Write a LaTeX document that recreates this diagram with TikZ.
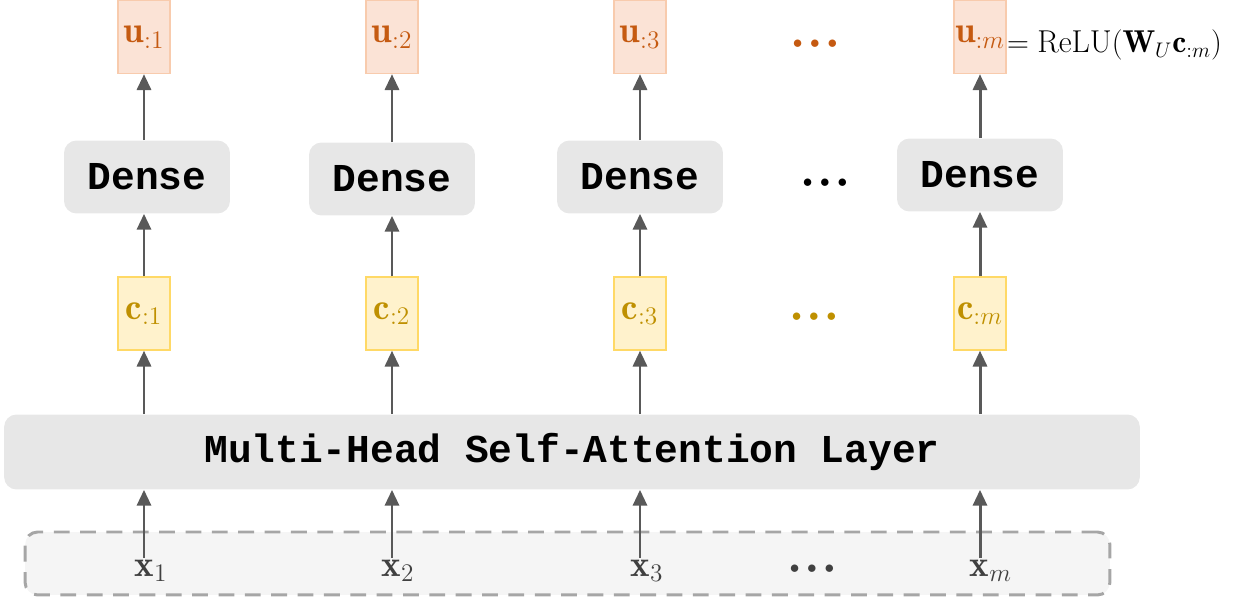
\documentclass[tikz,border=0pt]{standalone}
\usepackage{amsmath}
\usepackage{fontspec}
\setmonofont{Liberation Mono}
\usetikzlibrary{arrows.meta}

\definecolor{ufill}{HTML}{FBE3D6}
\definecolor{uline}{HTML}{F8CBAD}
\definecolor{utext}{HTML}{C55A11}
\definecolor{cfill}{HTML}{FFF2CC}
\definecolor{cline}{HTML}{FFD966}
\definecolor{ctext}{HTML}{BF9000}
\definecolor{boxgray}{HTML}{E7E7E7}
\definecolor{arrgray}{HTML}{595959}
\definecolor{xtext}{HTML}{404040}

\tikzset{
  ubox/.style={draw=uline, fill=ufill, line width=0.8pt, minimum width=1.04cm,
    minimum height=1.46cm, inner sep=0pt, text=utext, font=\fontsize{21}{23}\selectfont},
  cbox/.style={draw=cline, fill=cfill, line width=0.8pt, minimum width=1.04cm,
    minimum height=1.46cm, inner sep=0pt, text=ctext, font=\fontsize{21}{23}\selectfont},
  densebox/.style={fill=boxgray, rounded corners=0.25cm, minimum width=3.32cm,
    minimum height=1.46cm, font=\ttfamily\bfseries\fontsize{22.5}{24}\selectfont},
  arr/.style={draw=arrgray, line width=1.7pt, -{Triangle[length=9pt,width=8pt]}},
  xlab/.style={text=xtext, inner sep=1pt, font=\fontsize{21}{23}\selectfont},
  dots/.style={font=\fontsize{11}{12}\selectfont},
}

\begin{document}
\begin{tikzpicture}[x=0.02cm, y=-0.02cm]
    \useasboundingbox (0,0) rectangle (1242,597);

    % input row
    \node[draw=black!35, fill=black!4, dashed, dash pattern=on 9pt off 6pt,
      line width=1.7pt, rounded corners=0.25cm, minimum width=21.7cm,
      minimum height=1.26cm] (inbox) at (567.5,563.5) {};
    \node[xlab] (x1) at (151,571) {$\mathbf{x}_1$};
    \node[xlab] (x2) at (398,571) {$\mathbf{x}_2$};
    \node[xlab] (x3) at (647,571) {$\mathbf{x}_3$};
    \node[xlab] (xm) at (991,571) {$\mathbf{x}_m$};
    \node[dots, text=xtext] (xdots) at (812,569) {$\bullet\hspace{2pt}\bullet\hspace{2pt}\bullet$};

    % attention layer
    \node[fill=boxgray, rounded corners=0.25cm, minimum width=22.72cm,
      minimum height=1.5cm, font=\ttfamily\bfseries\fontsize{22.5}{24}\selectfont]
      (mhsa) at (572,452) {Multi-Head Self-Attention Layer};

    % context vectors
    \node[cbox] (c1) at (144,313.5) {$\mathbf{c}_{:1}$};
    \node[cbox] (c2) at (392,313.5) {$\mathbf{c}_{:2}$};
    \node[cbox] (c3) at (640,313.5) {$\mathbf{c}_{:3}$};
    \node[cbox] (cm) at (980,313.5) {$\mathbf{c}_{:m}$};
    \node[dots, text=ctext] (cdots) at (814,317) {$\bullet\hspace{2pt}\bullet\hspace{2pt}\bullet$};

    % dense layers
    \node[densebox] (d1) at (147,177) {Dense};
    \node[densebox] (d2) at (392,179) {Dense};
    \node[densebox] (d3) at (640,177) {Dense};
    \node[densebox] (dm) at (980,175) {Dense};
    \node[dots] (ddots) at (825,183) {$\bullet\hspace{2pt}\bullet\hspace{2pt}\bullet$};

    % outputs
    \node[ubox] (u1) at (144,37) {$\mathbf{u}_{:1}$};
    \node[ubox] (u2) at (392,37) {$\mathbf{u}_{:2}$};
    \node[ubox] (u3) at (640,37) {$\mathbf{u}_{:3}$};
    \node[ubox] (um) at (980,37) {$\mathbf{u}_{:m}$};
    \node[dots, text=utext] (udots) at (815,44) {$\bullet\hspace{2pt}\bullet\hspace{2pt}\bullet$};
    \node[anchor=west, inner sep=0pt, font=\fontsize{18}{20}\selectfont] (eq)
      at (um.east |- 0,45) {$=\mathrm{ReLU}(\mathbf{W}_U\mathbf{c}_{:m})$};

    % arrows
    \draw[arr] (x1.north -| c1) -- (c1 |- mhsa.south);
    \draw[arr] (x2.north -| c2) -- (c2 |- mhsa.south);
    \draw[arr] (x3.north -| c3) -- (c3 |- mhsa.south);
    \draw[arr] (xm.north -| cm) -- (cm |- mhsa.south);

    \draw[arr] (c1 |- mhsa.north) -- (c1.south);
    \draw[arr] (c2 |- mhsa.north) -- (c2.south);
    \draw[arr] (c3 |- mhsa.north) -- (c3.south);
    \draw[arr] (cm |- mhsa.north) -- (cm.south);

    \draw[arr] (c1.north) -- (c1 |- d1.south);
    \draw[arr] (c2.north) -- (c2 |- d2.south);
    \draw[arr] (c3.north) -- (c3 |- d3.south);
    \draw[arr] (cm.north) -- (cm |- dm.south);

    \draw[arr] (u1 |- d1.north) -- (u1.south);
    \draw[arr] (u2 |- d2.north) -- (u2.south);
    \draw[arr] (u3 |- d3.north) -- (u3.south);
    \draw[arr] (um |- dm.north) -- (um.south);

\end{tikzpicture}
\end{document}
